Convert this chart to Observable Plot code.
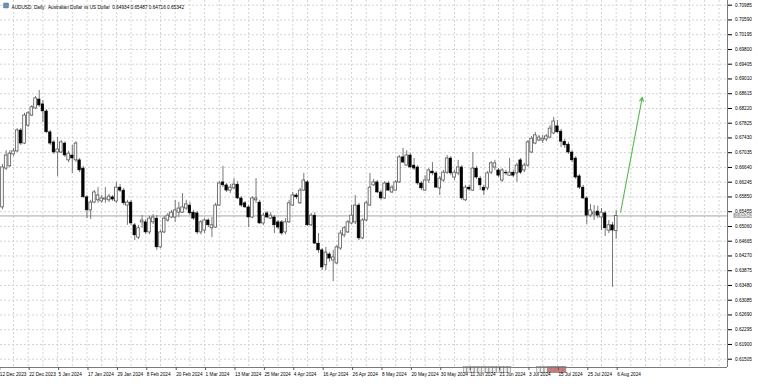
<!DOCTYPE html>
<html><head><meta charset="utf-8">
<script src="https://cdn.jsdelivr.net/npm/d3@7"></script>
<script src="https://cdn.jsdelivr.net/npm/@observablehq/plot@0.6"></script>
<style>body{margin:0;background:#fff;}</style>
</head><body><div id="chart"></div>
<script>
const title = "AUDUSD, Daily:  Australian Dollar vs US Dollar  0.64934 0.65487 0.64716 0.65342";
const firstBar = 1;
const open = [
.6557,.6661,.6667,.6699,.6707,.6763,.6728,.6776,.6803,.6822,
.6846,.6833,.6814,.6758,.6731,.6704,.6704,.6728,.6683,.6696,
.6683,.6683,.6661,.6584,.6549,.6570,.6576,.6573,.6578,.6576,
.6584,.6573,.6610,.6602,.6562,.6570,.6509,.6476,.6517,.6517,
.6490,.6517,.6527,.6450,.6490,.6522,.6530,.6530,.6543,.6543,
.6554,.6562,.6543,.6541,.6490,.6495,.6522,.6501,.6503,.6562,
.6624,.6616,.6602,.6608,.6618,.6581,.6568,.6557,.6530,.6576,
.6570,.6514,.6541,.6527,.6530,.6517,.6517,.6490,.6517,.6562,
.6589,.6568,.6602,.6624,.6509,.6535,.6460,.6442,.6402,.6431,
.6415,.6407,.6447,.6482,.6490,.6514,.6517,.6562,.6474,.6522,
.6562,.6616,.6624,.6597,.6581,.6621,.6597,.6602,.6624,.6691,
.6669,.6696,.6669,.6664,.6621,.6602,.6629,.6653,.6648,.6608,
.6629,.6650,.6688,.6637,.6648,.6664,.6576,.6610,.6602,.6661,
.6634,.6610,.6608,.6650,.6664,.6656,.6629,.6650,.6642,.6650,
.6648,.6683,.6656,.6669,.6704,.6728,.6736,.6736,.6739,.6744,
.6755,.6774,.6760,.6733,.6725,.6704,.6688,.6640,.6610,.6581,
.6535,.6538,.6546,.6530,.6541,.6495,.6509,.64934];
const high = [
.6672,.6709,.6709,.6715,.6768,.6768,.6809,.6814,.6830,.6854,
.6870,.6843,.6819,.6763,.6736,.6744,.6736,.6733,.6707,.6723,
.6733,.6688,.6667,.6589,.6576,.6602,.6610,.6589,.6610,.6592,
.6589,.6624,.6618,.6608,.6576,.6576,.6514,.6509,.6535,.6525,
.6533,.6538,.6535,.6495,.6533,.6541,.6549,.6576,.6570,.6594,
.6576,.6570,.6549,.6546,.6522,.6527,.6527,.6530,.6568,.6626,
.6667,.6621,.6618,.6634,.6626,.6586,.6573,.6562,.6586,.6634,
.6576,.6541,.6546,.6543,.6535,.6522,.6522,.6527,.6576,.6597,
.6594,.6608,.6648,.6629,.6541,.6543,.6487,.6447,.6450,.6436,
.6442,.6455,.6495,.6506,.6522,.6562,.6589,.6568,.6527,.6573,
.6648,.6632,.6629,.6602,.6626,.6626,.6616,.6629,.6696,.6715,
.6709,.6701,.6688,.6669,.6626,.6642,.6661,.6677,.6653,.6640,
.6656,.6696,.6693,.6656,.6683,.6669,.6616,.6616,.6704,.6667,
.6640,.6616,.6653,.6680,.6683,.6661,.6661,.6656,.6688,.6656,
.6675,.6688,.6675,.6736,.6747,.6758,.6750,.6750,.6752,.6776,
.6798,.6790,.6766,.6739,.6731,.6709,.6693,.6645,.6616,.6586,
.6565,.6562,.6560,.6554,.6546,.6522,.6517,.65487];
const low = [
.6551,.6656,.6664,.6693,.6704,.6723,.6725,.6771,.6800,.6819,
.6825,.6784,.6755,.6723,.6699,.6640,.6701,.6691,.6677,.6648,
.6677,.6650,.6581,.6527,.6525,.6568,.6568,.6568,.6568,.6570,
.6573,.6568,.6597,.6562,.6509,.6509,.6468,.6471,.6501,.6484,
.6484,.6511,.6442,.6447,.6487,.6517,.6527,.6517,.6530,.6541,
.6549,.6535,.6522,.6484,.6484,.6487,.6503,.6476,.6501,.6560,
.6610,.6597,.6594,.6605,.6578,.6557,.6554,.6503,.6527,.6568,
.6511,.6509,.6527,.6525,.6487,.6498,.6482,.6484,.6514,.6560,
.6578,.6565,.6600,.6506,.6506,.6458,.6434,.6388,.6388,.6410,
.6358,.6404,.6442,.6476,.6487,.6511,.6511,.6468,.6471,.6519,
.6560,.6613,.6594,.6576,.6578,.6600,.6594,.6600,.6621,.6675,
.6667,.6661,.6656,.6616,.6602,.6600,.6621,.6642,.6608,.6589,
.6624,.6645,.6642,.6629,.6642,.6576,.6573,.6600,.6600,.6632,
.6602,.6589,.6602,.6645,.6656,.6637,.6624,.6642,.6640,.6637,
.6624,.6645,.6650,.6664,.6701,.6725,.6733,.6728,.6733,.6741,
.6752,.6755,.6717,.6715,.6699,.6677,.6632,.6605,.6578,.6511,
.6530,.6522,.6527,.6495,.6479,.6487,.6343,.64716];
const close = [
.6664,.6696,.6701,.6707,.6763,.6728,.6803,.6809,.6825,.6849,
.6830,.6814,.6758,.6728,.6704,.6712,.6731,.6696,.6701,.6688,
.6728,.6656,.6584,.6549,.6570,.6597,.6589,.6581,.6581,.6586,
.6578,.6610,.6602,.6568,.6570,.6514,.6482,.6501,.6522,.6490,
.6527,.6530,.6450,.6490,.6527,.6535,.6543,.6549,.6554,.6557,
.6565,.6541,.6527,.6490,.6517,.6522,.6509,.6509,.6562,.6621,
.6616,.6602,.6610,.6618,.6581,.6562,.6557,.6530,.6581,.6581,
.6514,.6535,.6530,.6535,.6509,.6503,.6487,.6517,.6568,.6589,
.6584,.6602,.6629,.6509,.6535,.6460,.6442,.6396,.6436,.6420,
.6423,.6450,.6487,.6501,.6517,.6535,.6562,.6474,.6522,.6568,
.6610,.6624,.6597,.6581,.6621,.6602,.6610,.6624,.6691,.6677,
.6696,.6664,.6661,.6621,.6608,.6629,.6656,.6648,.6610,.6634,
.6650,.6688,.6648,.6650,.6664,.6581,.6610,.6605,.6661,.6637,
.6616,.6602,.6648,.6675,.6675,.6642,.6656,.6648,.6650,.6642,
.6669,.6650,.6669,.6731,.6741,.6750,.6744,.6741,.6747,.6768,
.6787,.6758,.6733,.6723,.6704,.6683,.6637,.6610,.6581,.6535,
.6549,.6543,.6535,.6543,.6501,.6509,.6495,.65342];
const dateLabels = ["12 Dec 2023","22 Dec 2023","5 Jan 2024","17 Jan 2024","29 Jan 2024","8 Feb 2024","20 Feb 2024","1 Mar 2024","13 Mar 2024","25 Mar 2024","4 Apr 2024","16 Apr 2024","26 Apr 2024","8 May 2024","20 May 2024","30 May 2024","11 Jun 2024","21 Jun 2024","3 Jul 2024","15 Jul 2024","25 Jul 2024","6 Aug 2024"];
const labelBars = [0,8,16,24,32,40,48,56,64,72,80,88,96,104,112,120,128,136,144,152,160,168];
const priceTicks = [0.70985,0.70590,0.70195,0.69800,0.69405,0.69010,0.68615,0.68220,0.67825,0.67430,0.67035,0.66640,0.66245,0.65850,0.65455,0.65060,0.64665,0.64270,0.63875,0.63480,0.63085,0.62690,0.62295,0.61900,0.61505];
const lastPrice = 0.65342;
const arrowLine = [{fromBar: 169.2, fromPrice: 0.6544, toBar: 175.1, toPrice: 0.6852}];
const eventBars = [127,128,129,130,131,132,133,134,135,136,137,138,139,147,148,149,150,151,152,153,154];
const eventKind = ["n","n","n","n","n","n","n","n","n","n","n","n","n","n","n","n","h","h","h","h","h"];

const bars = open.map((o, k) => ({i: k + firstBar, o, h: high[k], l: low[k], c: close[k]}));
const bull = bars.filter(d => d.c >= d.o);
const bear = bars.filter(d => d.c < d.o);
const events = eventBars.map((b, k) => ({b, kind: eventKind[k]}));
const xDomain = [0.4626, 198.29];
const yDomain = [0.61283, 0.711109];
const gridBars = d3.range(0, 200, 4);
const font = "'Liberation Sans', Arial, sans-serif";
const fs = 4.7;
const half = 0.36;

const chart = Plot.plot({
  width: 758, height: 384,
  marginLeft: 0, marginRight: 31, marginTop: 0, marginBottom: 17,
  style: {fontFamily: font, fontSize: fs + "px", background: "#fff", color: "#000", overflow: "visible"},
  x: {type: "linear", domain: xDomain},
  y: {type: "linear", domain: yDomain},
  marks: [
    Plot.gridY(priceTicks, {stroke: "#d4d4d4", strokeOpacity: 1, strokeDasharray: "2,2"}),
    Plot.gridX(gridBars, {stroke: "#d4d4d4", strokeOpacity: 1, strokeDasharray: "2,2"}),
    Plot.ruleY([lastPrice], {stroke: "#a6a6a6", strokeWidth: 1}),
    Plot.ruleX(bars, {x: "i", y1: "l", y2: "h", stroke: "#555", strokeWidth: 0.8}),
    Plot.rect(bull, {x1: d => d.i - half, x2: d => d.i + half, y1: "o", y2: "c", fill: "#fff", stroke: "#555", strokeWidth: 0.8}),
    Plot.rect(bear, {x1: d => d.i - half, x2: d => d.i + half, y1: "o", y2: "c", fill: "#000", stroke: "#000", strokeWidth: 0.5}),
    Plot.arrow(arrowLine, {x1: "fromBar", y1: "fromPrice", x2: "toBar", y2: "toPrice", stroke: "#52b848", strokeWidth: 1.1, headLength: 6, headAngle: 50}),
    Plot.rect(events, {x1: d => d.b - 0.48, x2: d => d.b + 0.45, y1: () => 0.6113, y2: () => 0.6130,
      fill: d => d.kind === "h" ? "#d07a7a" : "#eeeeee", stroke: "#777", strokeWidth: 0.5}),
    Plot.ruleX([xDomain[1]], {stroke: "#7a7a7a"}),
    Plot.ruleY([yDomain[0]], {stroke: "#7a7a7a"}),
    Plot.axisX(labelBars, {tickFormat: d => dateLabels[labelBars.indexOf(d)], textAnchor: "start", tickSize: 3, tickPadding: 2, dx: 1, fontSize: fs, stroke: "#555"}),
    Plot.axisY(priceTicks, {anchor: "right", tickFormat: d => d.toFixed(5), tickSize: 4, tickPadding: 3.5, fontSize: fs}),
    Plot.rect([lastPrice], {x1: () => 200.05, x2: () => 205.1, y1: d => d - 0.00066, y2: d => d + 0.00066, fill: "#a9a9a9"}),
    Plot.text([lastPrice], {x: () => xDomain[1], y: d => d, text: d => d.toFixed(5), dx: 7.8, textAnchor: "start", fill: "#fff", fontSize: fs}),
    Plot.dot([0], {frameAnchor: "top-left", dx: 5.5, dy: 5, symbol: "square", r: 2.6, fill: "#6d93c9", stroke: "#37598a", strokeWidth: 0.6}),
    Plot.text([title], {text: d => d, frameAnchor: "top-left", dx: 11, dy: 5, textAnchor: "start", fill: "#000", fontSize: fs})
  ]
});
document.getElementById("chart").appendChild(chart);
</script>
</body></html>
